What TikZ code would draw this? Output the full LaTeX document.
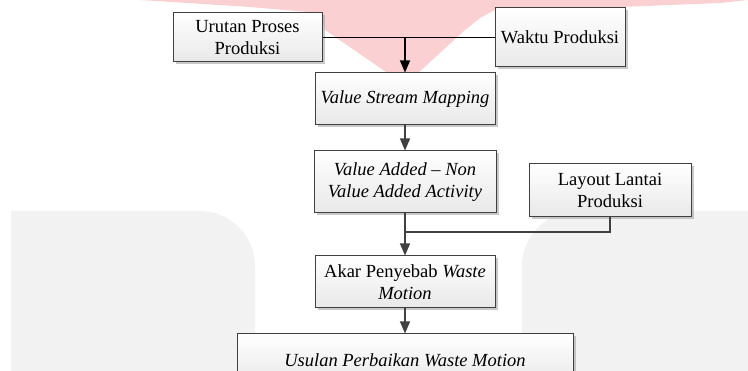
\documentclass[tikz,border=0pt]{standalone}
\usepackage{fontspec}
\setmainfont{Liberation Serif}
\usetikzlibrary{arrows.meta,shadows}
\definecolor{boxline}{HTML}{404040}
\definecolor{wmgray}{HTML}{F2F2F2}
\definecolor{wmpink}{RGB}{250,208,211}
\begin{document}
\begin{tikzpicture}[x=1pt,y=-1pt,
  box/.style={draw=boxline, line width=1pt, top color=white, bottom color=black!9,
    drop shadow={shadow xshift=2.5pt, shadow yshift=-2.5pt, fill=black!35, opacity=0.6},
    align=center, font=\fontsize{18.5}{22}\selectfont, inner sep=0pt},
  link/.style={draw=boxline, line width=1.1pt},
  toplink/.style={draw=black, line width=1.1pt},
  arr/.style={link, -{Triangle[length=12pt,width=10pt]}}]
\clip (0,0) rectangle (748,371);
\fill[white] (0,0) rectangle (748,371);
% watermark
\fill[wmgray] (11,380) -- (11,211) -- (200,211) .. controls (230,211) and (255,236) .. (255,266) -- (255,380) -- cycle;
\fill[wmgray] (522,380) -- (522,266) .. controls (522,236) and (547,211) .. (577,211) -- (748,211) -- (748,380) -- cycle;
\fill[wmpink] (140,0) -- (748,0) -- (720,3) -- (620,7) -- (495,10) -- (480,18) -- (465,30) -- (405,85) -- (325,30) -- (320,13) -- (250,7) -- cycle;
% boxes
\node[box, minimum width=149pt, minimum height=49pt] (urutan) at (247.5,37.5) {Urutan Proses\\Produksi};
\node[box, minimum width=130pt, minimum height=59pt] (waktu) at (560,37.5) {Waktu Produksi};
\node[box, minimum width=180pt, minimum height=52pt] (vsm) at (405,99) {\textit{Value Stream Mapping}};
\node[box, minimum width=182pt, minimum height=62pt] (vaa) at (405,182) {\textit{Value Added -- Non}\\\textit{Value Added Activity}};
\node[box, minimum width=162pt, minimum height=53pt] (layout) at (610,190.5) {Layout Lantai\\Produksi};
\node[box, minimum width=180pt, minimum height=52pt] (akar) at (405,282) {Akar Penyebab \textit{Waste}\\\textit{Motion}};
\node[box, minimum width=336pt, minimum height=52pt] (usulan) at (405,360) {\textit{Usulan Perbaikan Waste Motion}};
% connectors
\coordinate (j1) at (405,37.5);
\coordinate (j2) at (405,232);
\draw[toplink] (urutan.east) -- (waktu.west);
\draw[toplink, -{Triangle[length=12pt,width=10pt]}] (j1) -- (vsm.north);
\draw[arr] (vsm) -- (vaa);
\draw[link] (layout.south) |- (j2);
\draw[arr] (vaa) -- (akar);
\draw[arr] (akar) -- (usulan);
\end{tikzpicture}
\end{document}
